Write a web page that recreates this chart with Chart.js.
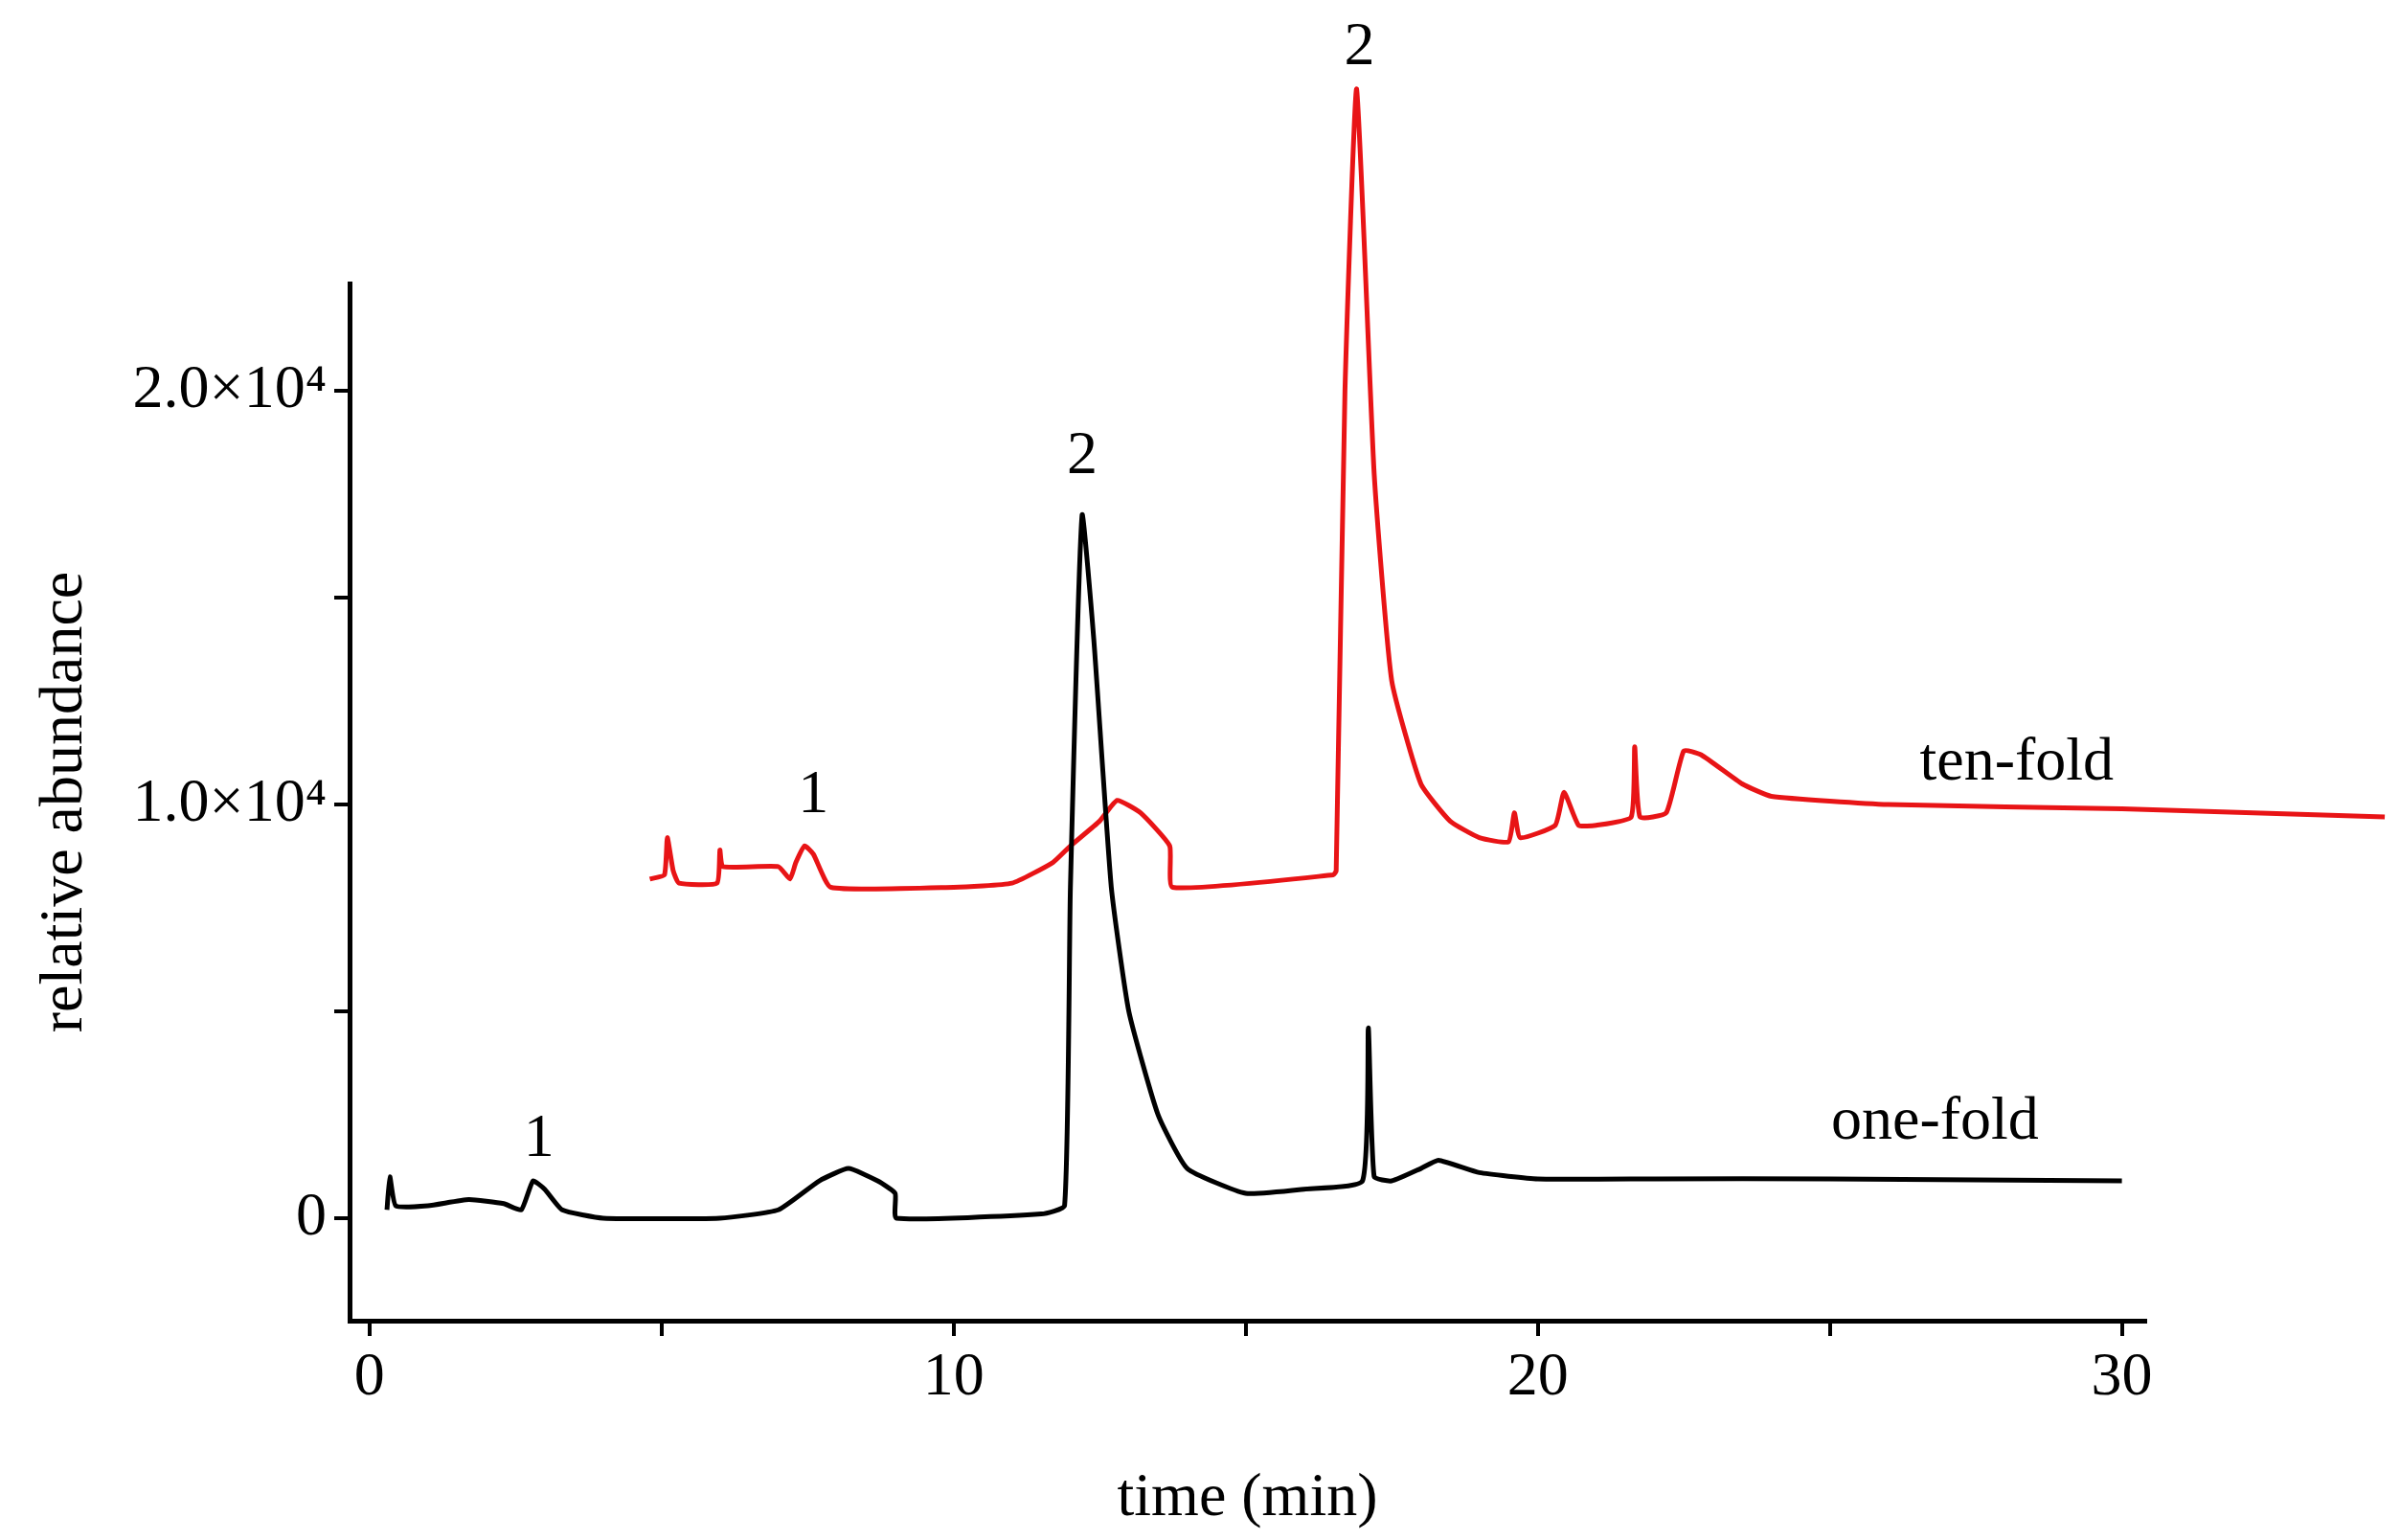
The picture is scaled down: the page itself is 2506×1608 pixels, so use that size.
<!DOCTYPE html>
<html><head><meta charset="utf-8">
<script src="https://cdn.jsdelivr.net/npm/chart.js@4"></script>
<style>html,body{margin:0;padding:0;background:#fff}#w{width:2506px;height:1608px}</style>
</head><body><div id="w"><canvas id="c"></canvas></div>
<script>
const oneFoldX=[0.3,0.35,0.45,1,1.7,2.3,2.6,2.8,3.0,3.3,4,6,7,7.7,8.2,8.7,9.0,9.02,11.5,11.9,12.0,12.2,12.4,12.7,13,13.5,14,15,16,17,17.1,17.2,17.5,18,18.3,19,20,22,25,30];
const oneFoldY=[200,1000,300,300,450,350,200,900,700,200,0,0,200,900,1200,900,600,0,100,300,8000,17000,14000,8000,5000,2500,1200,600,700,900,4600,1000,900,1200,1400,1100,950,950,950,900];
const tenFoldX=[4.8,5.05,5.1,5.2,5.3,5.95,6.0,6.05,7.0,7.2,7.3,7.45,7.6,7.9,10,11,11.7,12.0,12.5,12.8,13.2,13.7,13.75,16.5,16.55,16.7,16.9,17.2,17.5,18,18.5,19,19.5,19.6,19.7,20.3,20.45,20.7,21,21.6,21.66,21.75,22.2,22.5,22.8,23.5,24,26,30,34.5];
const tenFoldY=[8200,8300,9200,8400,8100,8100,8900,8500,8500,8200,8600,9000,8800,8000,8000,8100,8600,9000,9600,10100,9800,9000,8000,8300,8400,20000,27300,18000,13000,10500,9600,9200,9100,9800,9200,9500,10300,9500,9500,9700,11400,9700,9800,11300,11200,10500,10200,10000,9900,9700];
const xTicks=[0,5,10,15,20,25,30];
const yTicks=[0,5000,10000,15000,20000];
const yLabels={0:'0',10000:'1.0×10⁴',20000:'2.0×10⁴'};
const notes=[{x:2.9,y:1900,t:'1'},{x:7.6,y:10200,t:'1'},{x:12.2,y:18400,t:'2'},{x:16.95,y:28300,t:'2'},{x:28.2,y:11000,t:'ten-fold'},{x:26.8,y:2300,t:'one-fold'}];
const font='Liberation Serif';
const toPts=(xs,ys)=>xs.map((x,i)=>({x,y:ys[i]}));
const notePlugin={id:'notes',afterDatasetsDraw(ch){const c=ch.ctx,sx=ch.scales.x,sy=ch.scales.y;c.save();c.fillStyle='#000';c.font='64px "'+font+'"';c.textAlign='center';c.textBaseline='middle';notes.forEach(n=>c.fillText(n.t,sx.getPixelForValue(n.x),sy.getPixelForValue(n.y)));c.restore();}};
const tickGrid={display:true,drawOnChartArea:false,drawTicks:true,tickLength:16,color:'#000',lineWidth:4};
new Chart(document.getElementById('c'),{type:'line',
data:{datasets:[
{data:toPts(oneFoldX,oneFoldY),borderColor:'#000',borderWidth:5,pointRadius:0,tension:0.15,clip:false},
{data:toPts(tenFoldX,tenFoldY),borderColor:'rgb(232,20,22)',borderWidth:5,pointRadius:0,tension:0.15,clip:false}]},
options:{responsive:true,maintainAspectRatio:false,animation:false,
layout:{padding:{left:0,top:296,right:266,bottom:0}},
plugins:{legend:{display:false},tooltip:{enabled:false}},
scales:{
x:{type:'linear',min:-0.34,max:30.4,grid:tickGrid,border:{color:'#000',width:5},
afterBuildTicks:s=>{s.ticks=xTicks.map(v=>({value:v}));},
afterFit:s=>{s.height=229;},
ticks:{color:'#000',font:{family:font,size:64},padding:6,callback:v=>v%10===0?String(v):''},
title:{display:true,text:'time (min)',color:'#000',font:{family:font,size:64},padding:{top:0}}},
y:{type:'linear',min:-2480,max:22600,grid:tickGrid,border:{color:'#000',width:5},
afterBuildTicks:s=>{s.ticks=yTicks.map(v=>({value:v}));},
afterFit:s=>{s.width=365;},
ticks:{color:'#000',font:{family:font,size:64},padding:8,callback:v=>yLabels[v]||''},
title:{display:true,text:'relative abundance',color:'#000',font:{family:font,size:64},padding:{bottom:0,top:30}}}}},
plugins:[notePlugin]});
</script></body></html>
